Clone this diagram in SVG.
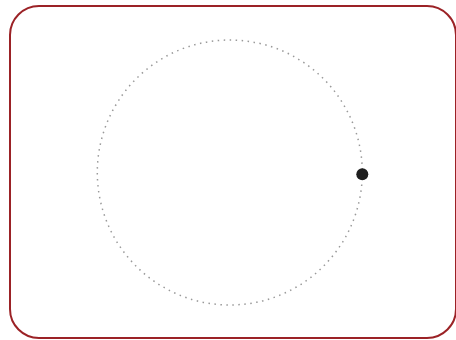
<svg xmlns="http://www.w3.org/2000/svg" width="456" height="340" viewBox="0 0 456 340">
  <style>
    .frame { fill: #ffffff; stroke: #9b2226; stroke-width: 2; }
    .orbit { fill: none; stroke: #999999; stroke-width: 1.5; stroke-dasharray: 1.5 4.5; }
    .ball { fill: #1e1e1e; }
  </style>
  <rect width="456" height="340" fill="#ffffff"/>
  <g id="frame">
    <rect class="frame" x="10" y="6" width="446" height="332" rx="29" ry="29"/>
  </g>
  <g id="orbit">
    <circle class="orbit" cx="229.8" cy="172.5" r="132.5"/>
  </g>
  <g id="ball">
    <circle class="ball" cx="362.3" cy="174.3" r="6"/>
  </g>
</svg>
